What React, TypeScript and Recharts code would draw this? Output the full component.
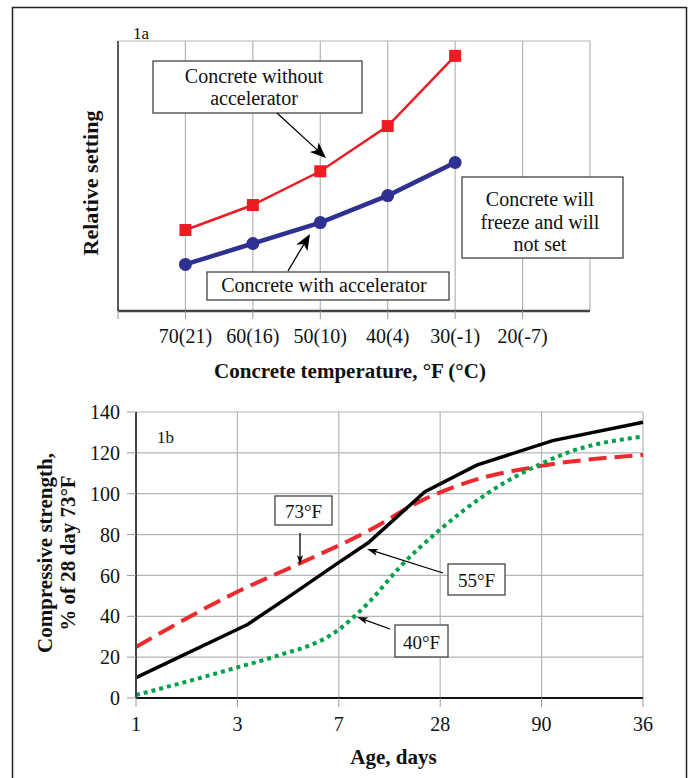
import { CartesianGrid, Line, LineChart, XAxis, YAxis } from "recharts";

const SERIF = '"Liberation Serif", "Times New Roman", serif';

// 1a: relative setting vs concrete temperature
const tempLabels = ["70(21)", "60(16)", "50(10)", "40(4)", "30(-1)", "20(-7)"];
const withoutAccelerator = [1.2, 1.57, 2.07, 2.74, 3.78];
const withAccelerator = [0.69, 1.0, 1.31, 1.71, 2.2];
const settingTicks = [0, 1, 2, 3, 4];

// 1b: compressive strength vs age (age given as position on the age axis, 0 = 1 day)
const ageLabels = ["1", "3", "7", "28", "90", "36"];
const age73 = [0, 1, 1.62, 2.28, 2.83, 3.36, 3.98, 5];
const strength73 = [25, 52, 66, 81.5, 97, 107, 113.5, 119];
const age55 = [0, 1.1, 1.52, 1.99, 2.29, 2.85, 3.36, 4.11, 5];
const strength55 = [10, 36, 50, 66, 76, 101, 114, 126, 135];
const age40 = [0, 0.5, 1, 1.35, 2, 2.3, 2.6, 3, 3.46, 4.01, 4.25, 5];
const strength40 = [1.5, 8, 15, 20, 33.5, 47, 64, 82.5, 100, 115, 120, 128];
const strengthTicks = [0, 20, 40, 60, 80, 100, 120, 140];

const settingData = withoutAccelerator.map((v, i) => ({
  x: i,
  without: v,
  with: withAccelerator[i],
}));
const toPoints = (xs: number[], ys: number[]) => xs.map((x, i) => ({ x, y: ys[i] }));

const tickStyle = { fontFamily: SERIF, fontSize: 20, fill: "#111" };

const xTitle = (text: string, dx: number, dy: number) => (props: any) => {
  const vb = props.viewBox;
  return (
    <text
      x={vb.x + vb.width / 2 + dx}
      y={vb.y + dy}
      textAnchor="middle"
      fontFamily={SERIF}
      fontSize={21}
      fontWeight="bold"
      fill="#111"
    >
      {text}
    </text>
  );
};

const yTitle = (lines: string[], xs: number[], dy: number, size: number) => (props: any) => {
  const vb = props.viewBox;
  const cy = vb.y + vb.height / 2 + dy;
  return (
    <g>
      {lines.map((t, i) => (
        <text
          key={i}
          transform={`translate(${xs[i]},${cy}) rotate(-90)`}
          textAnchor="middle"
          dominantBaseline="central"
          fontFamily={SERIF}
          fontSize={size}
          fontWeight="bold"
          fill="#111"
        >
          {t}
        </text>
      ))}
    </g>
  );
};

function Arrow({ x1, y1, x2, y2, head, width }: any) {
  const a = Math.atan2(y2 - y1, x2 - x1);
  const c = Math.cos(a);
  const s = Math.sin(a);
  const bx = x2 - head * c;
  const by = y2 - head * s;
  const nx = x2 - head * 0.75 * c;
  const ny = y2 - head * 0.75 * s;
  const px = (-s * width) / 2;
  const py = (c * width) / 2;
  return (
    <g>
      <line x1={x1} y1={y1} x2={nx} y2={ny} stroke="#000" strokeWidth={1.3} />
      <polygon
        points={`${x2},${y2} ${bx + px},${by + py} ${nx},${ny} ${bx - px},${by - py}`}
        fill="#000"
      />
    </g>
  );
}

function Box({ x, y, w, h, cx, lines, baselines, size = 20 }: any) {
  return (
    <g>
      <rect x={x} y={y} width={w} height={h} fill="#fff" stroke="#444" strokeWidth={1.3} />
      {lines.map((t: string, i: number) => (
        <text key={i} x={cx} y={baselines[i]} textAnchor="middle" fontFamily={SERIF} fontSize={size} fill="#111">
          {t}
        </text>
      ))}
    </g>
  );
}

export default function App() {
  return (
    <div style={{ position: "absolute", left: 0, top: 0, width: 689, height: 778, background: "#fff", overflow: "hidden" }}>
      <div style={{ position: "absolute", left: 0, top: 0 }}>
        <LineChart width={689} height={395} data={settingData} margin={{ top: 41, right: 99, bottom: 0, left: 0 }}>
          <CartesianGrid stroke="#b5b5b5" strokeWidth={1.2} />
          <XAxis
            type="number"
            dataKey="x"
            domain={[-1, 6]}
            ticks={[-1, 0, 1, 2, 3, 4, 5]}
            interval={0}
            tickFormatter={(v) => tempLabels[v] ?? ""}
            height={84}
            axisLine={{ stroke: "#444", strokeWidth: 2.5 }}
            tickLine={{ stroke: "#999" }}
            tickSize={8}
            tickMargin={10}
            tick={tickStyle}
            label={{ content: xTitle("Concrete temperature, °F (°C)", -4, 67) }}
          />
          <YAxis
            type="number"
            domain={[0, 4]}
            ticks={settingTicks}
            interval={0}
            width={118}
            tick={false}
            tickSize={10}
            tickLine={{ stroke: "#aaa" }}
            axisLine={{ stroke: "#333", strokeWidth: 1.5 }}
            label={{ content: yTitle(["Relative setting"], [90], 7, 22) }}
          />
          <Line
            dataKey="without"
            type="linear"
            stroke="#ed1c24"
            strokeWidth={2.5}
            dot={(p: any) => <rect key={p.index} x={p.cx - 6} y={p.cy - 6} width={12} height={12} fill="#ed1c24" />}
            isAnimationActive={false}
          />
          <Line
            dataKey="with"
            type="linear"
            stroke="#2e3192"
            strokeWidth={4.5}
            dot={{ r: 6.5, fill: "#2e3192", stroke: "none" }}
            isAnimationActive={false}
          />
        </LineChart>
      </div>

      <div style={{ position: "absolute", left: 0, top: 395 }}>
        <LineChart width={689} height={383} margin={{ top: 17, right: 46, bottom: 0, left: 0 }}>
          <CartesianGrid stroke="#b5b5b5" strokeWidth={1.2} />
          <XAxis
            type="number"
            dataKey="x"
            domain={[0, 5]}
            ticks={[0, 1, 2, 3, 4, 5]}
            interval={0}
            tickFormatter={(v) => ageLabels[v] ?? ""}
            height={80}
            axisLine={{ stroke: "#111", strokeWidth: 2 }}
            tickLine={{ stroke: "#999" }}
            tickSize={9}
            tickMargin={10}
            tick={tickStyle}
            allowDuplicatedCategory={false}
            label={{ content: xTitle("Age, days", 4, 66) }}
          />
          <YAxis
            type="number"
            domain={[0, 140]}
            ticks={strengthTicks}
            interval={0}
            width={136}
            tickSize={9}
            tickMargin={7}
            tick={tickStyle}
            tickLine={{ stroke: "#999" }}
            axisLine={{ stroke: "#444", strokeWidth: 2 }}
            label={{ content: yTitle(["Compressive strength,", "% of 28 day 73°F"], [45, 68], -2, 21) }}
          />
          <Line
            data={toPoints(age73, strength73)}
            dataKey="y"
            type="monotone"
            stroke="#ee2a2e"
            strokeWidth={4}
            strokeDasharray="18 8"
            dot={false}
            isAnimationActive={false}
          />
          <Line
            data={toPoints(age55, strength55)}
            dataKey="y"
            type="linear"
            stroke="#000"
            strokeWidth={3.5}
            dot={false}
            isAnimationActive={false}
          />
          <Line
            data={toPoints(age40, strength40)}
            dataKey="y"
            type="monotone"
            stroke="#00a14b"
            strokeWidth={4}
            strokeDasharray="4 4"
            dot={false}
            isAnimationActive={false}
          />
        </LineChart>
      </div>

      <svg width={689} height={778} style={{ position: "absolute", left: 0, top: 0, pointerEvents: "none" }}>
        <rect x={12.5} y={7.5} width={674} height={800} fill="none" stroke="#222" strokeWidth={1.5} />

        <text x={133} y={39} fontFamily={SERIF} fontSize={17} fill="#111">1a</text>
        <Box x={153} y={61} w={209} h={52} cx={254} lines={["Concrete without", "accelerator"]} baselines={[83, 105]} />
        <Arrow x1={277} y1={113} x2={326} y2={158} head={16} width={13} />
        <Box x={207} y={272} w={242} h={28} cx={324} lines={["Concrete with accelerator"]} baselines={[292]} />
        <Arrow x1={288} y1={271} x2={310} y2={234} head={16} width={13} />
        <Box x={462} y={177} w={161} h={81} cx={540} lines={["Concrete will", "freeze and will", "not set"]} baselines={[206, 228.5, 251]} />

        <text x={157} y={443} fontFamily={SERIF} fontSize={17} fill="#111">1b</text>
        <Box x={275} y={496} w={57} h={29} cx={303.5} lines={["73°F"]} baselines={[518]} size={19} />
        <Arrow x1={300} y1={533} x2={300} y2={565} head={10} width={6} />
        <Box x={448} y={564} w={57} h={31} cx={476.5} lines={["55°F"]} baselines={[587]} size={19} />
        <Arrow x1={443} y1={573} x2={367} y2={549} head={11} width={7} />
        <Box x={395} y={625} w={53} h={32} cx={421.5} lines={["40°F"]} baselines={[649]} size={19} />
        <Arrow x1={390} y1={629} x2={357} y2={617} head={11} width={7} />
      </svg>
    </div>
  );
}
